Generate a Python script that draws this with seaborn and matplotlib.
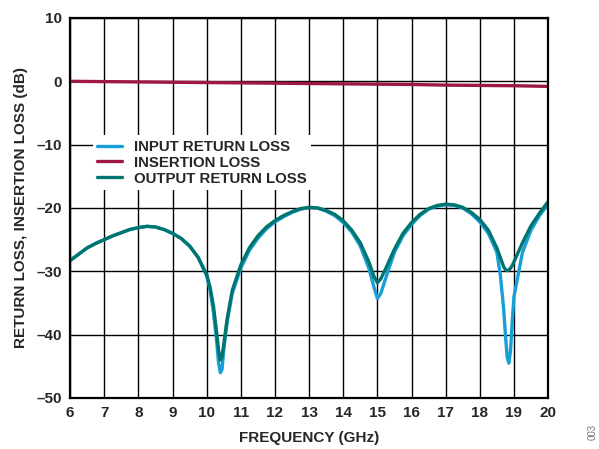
import numpy as np
import pandas as pd
import matplotlib
matplotlib.use('Agg')
import matplotlib.pyplot as plt
import seaborn as sns

# frequency points (GHz)
freq = [6.0, 6.25, 6.5, 6.75, 7.0, 7.25, 7.5, 7.75, 8.0, 8.25, 8.5, 8.75, 9.0, 9.25,
        9.5, 9.75, 10.0, 10.1, 10.2, 10.3, 10.35, 10.4, 10.45, 10.5, 10.6, 10.75, 11.0,
        11.25, 11.5, 11.75, 12.0, 12.25, 12.5, 12.75, 13.0, 13.25, 13.5, 13.75, 14.0,
        14.25, 14.5, 14.75, 14.9, 15.0, 15.1, 15.25, 15.5, 15.75, 16.0, 16.25, 16.5,
        16.75, 17.0, 17.25, 17.5, 17.75, 18.0, 18.25, 18.5, 18.6, 18.7, 18.75, 18.8,
        18.85, 18.9, 18.95, 19.0, 19.25, 19.5, 19.75, 20.0]

output_rl = [-28.3, -27.3, -26.3, -25.6, -25.0, -24.4, -23.9, -23.4, -23.1, -22.9, -23.0,
             -23.4, -24.0, -24.8, -26.0, -27.8, -30.5, -32.5, -35.5, -40.0, -42.5, -44.0,
             -43.5, -41.5, -37.5, -33.0, -29.0, -26.3, -24.4, -23.0, -22.0, -21.2, -20.6,
             -20.1, -19.9, -20.0, -20.4, -21.0, -22.0, -23.5, -25.5, -28.5, -30.8, -31.8,
             -31.2, -29.5, -26.5, -24.0, -22.3, -21.0, -20.1, -19.6, -19.4, -19.5, -19.9,
             -20.7, -21.8, -23.5, -26.3, -27.8, -29.3, -29.7, -29.9, -29.8, -29.5, -29.1,
             -28.5, -25.5, -22.8, -20.8, -19.0]

input_rl = [-28.3, -27.3, -26.3, -25.6, -25.0, -24.4, -23.9, -23.4, -23.1, -22.9, -23.0,
            -23.4, -24.0, -24.8, -26.0, -27.8, -30.7, -33.0, -36.5, -41.5, -44.5, -46.0,
            -45.5, -42.5, -38.0, -33.5, -29.5, -26.7, -24.8, -23.3, -22.2, -21.4, -20.7,
            -20.2, -19.9, -20.0, -20.5, -21.2, -22.3, -23.8, -26.0, -29.5, -32.5, -34.3,
            -33.5, -31.0, -27.0, -24.4, -22.6, -21.2, -20.2, -19.7, -19.5, -19.6, -20.0,
            -20.9, -22.2, -24.0, -27.0, -30.5, -36.0, -40.0, -43.5, -44.5, -42.5, -38.0,
            -34.0, -27.0, -23.5, -21.2, -19.4]

il_freq = [6, 7, 8, 9, 10, 11, 12, 13, 14, 15, 16, 17, 18, 19, 20]
insertion = [0.0, -0.05, -0.1, -0.15, -0.2, -0.25, -0.3, -0.35, -0.4, -0.45, -0.5,
             -0.6, -0.65, -0.7, -0.8]

df = pd.concat([
    pd.DataFrame({'freq': freq, 'loss': input_rl, 'trace': 'INPUT RETURN LOSS'}),
    pd.DataFrame({'freq': il_freq, 'loss': insertion, 'trace': 'INSERTION LOSS'}),
    pd.DataFrame({'freq': freq, 'loss': output_rl, 'trace': 'OUTPUT RETURN LOSS'}),
])

palette = {'INPUT RETURN LOSS': '#16a0d7',
           'INSERTION LOSS': '#a01842',
           'OUTPUT RETURN LOSS': '#00756f'}

sns.set_style('white')
plt.rcParams['font.family'] = ['Liberation Sans', 'DejaVu Sans']
plt.rcParams['font.weight'] = 'bold'

fig = plt.figure(figsize=(5.99, 4.49), dpi=100)
ax = fig.add_axes([0.117, 0.1136, 0.798, 0.8464])

sns.lineplot(data=df, x='freq', y='loss', hue='trace', palette=palette,
             linewidth=2.4, ax=ax, sort=False, estimator=None)

ax.set_xlim(6, 20)
ax.set_ylim(-50, 10)
ax.set_xticks(range(6, 21))
ax.set_yticks(range(-50, 11, 10))
ax.set_yticklabels([f'{v}'.replace('-', '\u2013') for v in range(-50, 11, 10)])
ax.grid(True, color='black', linewidth=1.0)
ax.set_axisbelow(True)
for s in ax.spines.values():
    s.set_color('black')
    s.set_linewidth(1.6)
ax.tick_params(length=0, labelsize=11, pad=6)
for lbl in ax.get_xticklabels() + ax.get_yticklabels():
    lbl.set_fontweight('bold')

ax.set_xlabel('FREQUENCY (GHz)', fontsize=11, fontweight='bold', labelpad=8)
ax.set_ylabel('RETURN LOSS, INSERTION LOSS (dB)', fontsize=11, fontweight='bold',
              labelpad=6)

leg = ax.legend(loc='upper left', bbox_to_anchor=(0.032, 0.711), frameon=True,
                fancybox=False, framealpha=1, edgecolor='none', facecolor='white',
                handlelength=1.65, handletextpad=0.8, labelspacing=0.13,
                borderpad=0.3, prop={'weight': 'bold', 'size': 10.8})

fig.text(0.99, 0.02, '003', rotation=90, fontsize=7, color='#777777',
         fontweight='normal', ha='center', va='bottom')

fig.savefig('out.png', dpi=100)
